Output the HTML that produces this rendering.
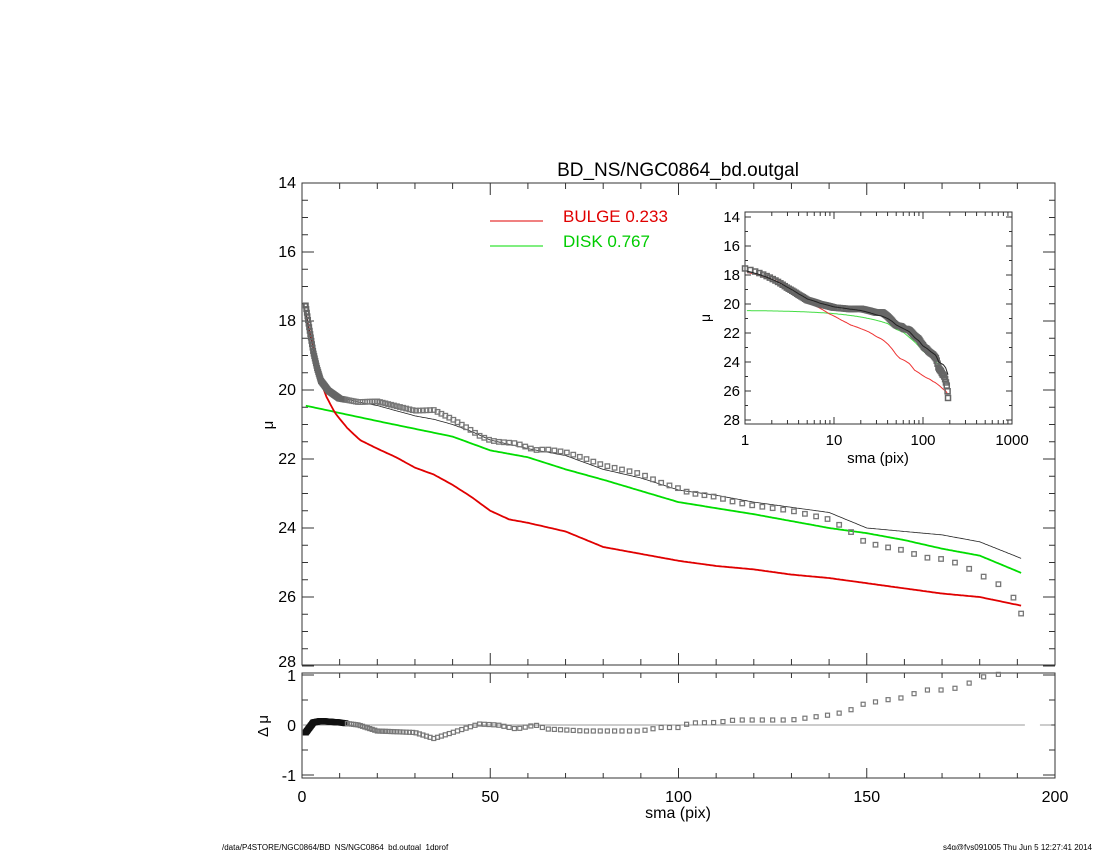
<!DOCTYPE html>
<html><head><meta charset="utf-8"><style>
html,body{margin:0;padding:0;background:#fff;}
svg{display:block;font-family:"Liberation Sans",sans-serif;}
</style></head><body>
<svg id="s" width="1100" height="850" xmlns="http://www.w3.org/2000/svg"></svg>
<script>
const S=document.getElementById('s');let h='';
function interp(t,x){if(x<=t[0][0])return t[0][1];for(let i=1;i<t.length;i++){if(x<=t[i][0]){const a=t[i-1],b=t[i];return a[1]+(b[1]-a[1])*(x-a[0])/(b[0]-a[0]);}}return t[t.length-1][1];}
const model=[[0.8,17.6],[1,17.7],[2,18.3],[3,18.85],[4,19.3],[5,19.65],[7,19.95],[10,20.2],[15,20.35],[20,20.45],[25,20.6],[30,20.75],[35,20.85],[40,21.0],[45,21.2],[50,21.45],[60,21.7],[70,21.9],[80,22.3],[90,22.55],[100,22.9],[110,23.05],[120,23.25],[130,23.4],[140,23.55],[150,24.0],[160,24.1],[170,24.2],[180,24.4],[191,24.88]];
const disk=[[0.8,20.45],[20,20.9],[40,21.35],[50,21.75],[60,21.95],[70,22.3],[80,22.6],[100,23.25],[120,23.6],[140,24.0],[150,24.15],[160,24.35],[170,24.6],[180,24.8],[191,25.3]];
const bulge=[[0.8,17.7],[1,17.8],[2,18.3],[3.5,19.0],[4.8,19.7],[6.5,20.2],[8.8,20.67],[12,21.1],[15.4,21.45],[20,21.7],[25,21.95],[30,22.25],[35,22.45],[40,22.75],[45,23.1],[50,23.5],[55,23.75],[60,23.85],[70,24.1],[80,24.55],[90,24.75],[100,24.95],[110,25.1],[120,25.2],[130,25.35],[140,25.45],[150,25.6],[160,25.75],[170,25.9],[180,26.0],[191,26.25]];
const res=[[1,-0.15],[3,0.05],[5,0.08],[10,0.05],[15,0],[20,-0.12],[30,-0.15],[35,-0.27],[40,-0.15],[47,0.02],[52,0.0],[57,-0.08],[62,0.0],[65,-0.08],[75,-0.12],[90,-0.12],[95,-0.05],[100,-0.05],[103,0.04],[110,0.05],[115,0.1],[130,0.1],[140,0.2],[145,0.27],[148,0.4],[155,0.5],[160,0.55],[165,0.7],[170,0.7],[175,0.75],[180,0.95],[188,1.05],[191,1.6]];
const X=r=>302+r*3.765, Y=v=>183+(v-14)*34.5, RY=v=>725-v*50;
const LX=r=>745+Math.log10(r)*89, LY=v=>217+(v-14)*14.5;
const rs=[];let r=1;while(r<192){rs.push(r);r=r<10?r+0.15:r*1.02+0.3;}rs.push(191);
function line(t,fx,fy,col,w){let p='';for(let x=1;x<=191;x+=0.5)p+=(p?'L':'M')+fx(x).toFixed(1)+','+fy(interp(t,x)).toFixed(1);return `<path d="${p}" fill="none" stroke="${col}" stroke-width="${w}" stroke-linejoin="round"/>`;}
h+=`<rect x="302" y="183" width="753" height="482" fill="none" stroke="#333" stroke-width="1"/>`;
for(let i=0;i<=200;i+=10){const x=X(i),L=i%50?6:12;h+=`<line x1="${x}" y1="183" x2="${x}" y2="${183+L}" stroke="#333"/><line x1="${x}" y1="665" x2="${x}" y2="${665-L}" stroke="#333"/>`;}
for(let v=14;v<=28;v+=0.5){const y=Y(v),L=v%2?6:12;h+=`<line x1="302" y1="${y}" x2="${302+L}" y2="${y}" stroke="#333"/><line x1="1055" y1="${y}" x2="${1055-L}" y2="${y}" stroke="#333"/>`;if(v%2==0)h+=`<text x="296" y="${Math.min(y+5,667)}" font-size="16" text-anchor="end">${v}</text>`;}
h+=line(disk,X,Y,'#00dd00',1.8)+line(bulge,X,Y,'#e00000',1.8)+line(model,X,Y,'#222',0.8);
rs.forEach(r=>{const v=interp(model,r)+interp(res,r);const s=r<12?4:4.5;h+=`<rect x="${X(r)-s/2}" y="${Y(v)-s/2}" width="${s}" height="${s}" fill="none" stroke="${r<12?'#666':'#777'}" stroke-width="${r<12?2:1.3}"/>`;});
h+=`<line x1="490" y1="221" x2="543" y2="221" stroke="#e00000"/><text x="563" y="222" font-size="17" fill="#e00000">BULGE  0.233</text>`;
h+=`<line x1="490" y1="246" x2="543" y2="246" stroke="#00dd00"/><text x="563" y="247" font-size="17" fill="#00cc00">DISK  0.767</text>`;
h+=`<text x="678" y="176" font-size="19" text-anchor="middle">BD_NS/NGC0864_bd.outgal</text>`;
h+=`<text x="268" y="430" font-size="15" transform="rotate(-90 268 425)" text-anchor="middle">μ</text>`;
h+=`<rect x="302" y="673" width="753" height="105" fill="none" stroke="#333"/>`;
for(let i=0;i<=200;i+=10){const x=X(i),L=i%50?5:10;h+=`<line x1="${x}" y1="673" x2="${x}" y2="${673+L}" stroke="#333"/><line x1="${x}" y1="778" x2="${x}" y2="${778-L}" stroke="#333"/>`;if(i%50==0)h+=`<text x="${x}" y="802" font-size="16" text-anchor="middle">${i}</text>`;}
[[1,'1'],[0,'0'],[-1,'-1']].forEach(([v,t])=>{const y=RY(v);h+=`<line x1="302" y1="${y}" x2="314" y2="${y}" stroke="#333"/><line x1="1055" y1="${y}" x2="1043" y2="${y}" stroke="#333"/><text x="296" y="${y+6}" font-size="16" text-anchor="end">${t}</text>`;});
[0.5,-0.5].forEach(v=>{const y=RY(v);h+=`<line x1="302" y1="${y}" x2="308" y2="${y}" stroke="#333"/><line x1="1055" y1="${y}" x2="1049" y2="${y}" stroke="#333"/>`;});
h+=`<line x1="${X(0)}" y1="725" x2="${X(192)}" y2="725" stroke="#999"/><line x1="${X(196)}" y1="725" x2="${X(199)}" y2="725" stroke="#999"/>`;
rs.forEach(r=>{const v=interp(res,r);if(v>1.05)return;h+=`<rect x="${X(r)-2}" y="${RY(v)-2}" width="4" height="4" fill="none" stroke="${r<12?'#111':'#777'}" stroke-width="${r<12?2:1.2}"/>`;});
h+=`<text x="268" y="726" font-size="15" transform="rotate(-90 268 726)" text-anchor="middle">Δ μ</text>`;
h+=`<text x="678" y="818" font-size="16" text-anchor="middle">sma (pix)</text>`;
h+=`<rect x="745" y="212" width="267" height="212" fill="#fff" stroke="#333"/>`;
for(let v=14;v<=28;v+=1){const y=LY(v),L=v%2?3:6;h+=`<line x1="745" y1="${y}" x2="${745+L}" y2="${y}" stroke="#333"/><line x1="1012" y1="${y}" x2="${1012-L}" y2="${y}" stroke="#333"/>`;if(v%2==0)h+=`<text x="740" y="${y+5}" font-size="15" text-anchor="end">${v}</text>`;}
for(let d=0;d<3;d++)for(let k=1;k<10;k++){const x=LX(k*Math.pow(10,d)),L=k==1?7:4;h+=`<line x1="${x}" y1="212" x2="${x}" y2="${212+L}" stroke="#333"/><line x1="${x}" y1="424" x2="${x}" y2="${424-L}" stroke="#333"/>`;}
['1','10','100','1000'].forEach((t,i)=>h+=`<text x="${745+i*89}" y="445" font-size="15" text-anchor="middle">${t}</text>`);
h+=`<text x="878" y="463" font-size="15" text-anchor="middle">sma (pix)</text>`;
h+=`<text x="710" y="318" font-size="14" transform="rotate(-90 710 318)" text-anchor="middle">μ</text>`;
function lline(t,col,w){let p='';for(let x=1.05;x<=191;x*=1.03)p+=(p?'L':'M')+LX(x).toFixed(1)+','+LY(interp(t,x)).toFixed(1);return `<path d="${p}" fill="none" stroke="${col}" stroke-width="${w}"/>`;}
h+=lline(disk,'#44dd44',1)+lline(bulge,'#ee3333',1);
rs.forEach(r=>{const v=interp(model,r)+interp(res,r);h+=`<rect x="${LX(r)-2.5}" y="${LY(v)-2.5}" width="5" height="5" fill="none" stroke="#666" stroke-width="1.5"/>`;});
h+=lline(model,'#222',1);
h+=`<text x="222" y="850" font-size="8">/data/P4STORE/NGC0864/BD_NS/NGC0864_bd.outgal_1dprof</text>`;
h+=`<text x="1092" y="850" font-size="8" text-anchor="end">s4g@fys091005  Thu Jun  5 12:27:41 2014</text>`;
S.innerHTML=h;
</script>
</body></html>
